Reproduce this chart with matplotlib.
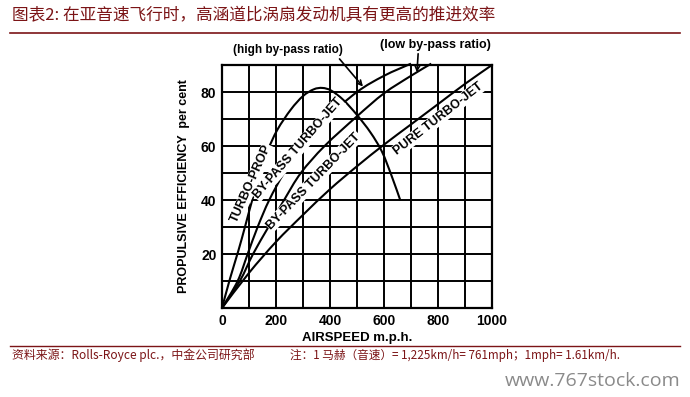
import matplotlib
matplotlib.use("Agg")
import matplotlib.pyplot as plt
from matplotlib.path import Path
from matplotlib.patches import PathPatch
import numpy as np

plt.rcParams['font.family'] = ['Liberation Sans', 'Noto Sans CJK SC', 'DejaVu Sans']

# ---- data ----
turboprop_x = [0, 30, 60, 85, 112, 142, 168, 205, 255, 300, 340, 372, 405, 450, 500, 550, 592, 628, 660]
turboprop_y = [0, 11, 21, 30, 40, 50, 58, 66, 73.5, 78.5, 81, 81.5, 80.5, 77, 71.5, 65, 58, 49, 40]

high_bp_x = [0, 58, 95, 132, 175, 230, 300, 385, 500, 600, 700]
high_bp_y = [0, 10, 20, 30, 40, 50, 60, 70, 80, 86, 90.5]

low_bp_x = [0, 66, 115, 172, 230, 292, 380, 500, 600, 700, 775]
low_bp_y = [0, 10, 20, 30, 40, 50, 60, 71, 79.5, 86, 90.5]

pure_x = [0, 100, 200, 300, 400, 500, 600, 700, 800, 900, 1000]
pure_y = [0, 13, 24.5, 34.5, 44, 52.5, 60.5, 68, 75.5, 83, 90]

x_ticks = [0, 200, 400, 600, 800, 1000]
y_ticks = [20, 40, 60, 80]

title = "图表2: 在亚音速飞行时，高涵道比涡扇发动机具有更高的推进效率"
source = "资料来源：Rolls-Royce plc.，中金公司研究部"
note = "注：1 马赫（音速）= 1,225km/h= 761mph；1mph= 1.61km/h."

W, H = 690, 397
fig = plt.figure(figsize=(W / 100, H / 100), dpi=100)

def fx(px):
    return px / W

def fy(py):
    return 1 - py / H

ax = fig.add_axes([fx(222), fy(308), (492 - 222) / W, (308 - 65) / H])
ax.set_xlim(0, 1000)
ax.set_ylim(0, 90)

# grid
for gx in range(100, 1000, 100):
    ax.axvline(gx, color='black', lw=1.4, zorder=1)
for gy in range(10, 90, 10):
    ax.axhline(gy, color='black', lw=1.4, zorder=1)
for s in ax.spines.values():
    s.set_linewidth(1.6)
    s.set_color('black')


def smooth_curve(ax, xs, ys, **kw):
    """Draw a smooth curve through the points as a Catmull-Rom Bezier path,
    computed in display space so the curve looks even on screen."""
    pts = ax.transData.transform(np.column_stack([xs, ys]))
    n = len(pts)
    verts = [pts[0]]
    codes = [Path.MOVETO]
    for i in range(n - 1):
        p0 = pts[i - 1] if i > 0 else pts[i]
        p1 = pts[i]
        p2 = pts[i + 1]
        p3 = pts[i + 2] if i + 2 < n else pts[i + 1]
        c1 = p1 + (p2 - p0) / 6.0
        c2 = p2 - (p3 - p1) / 6.0
        verts += [c1, c2, p2]
        codes += [Path.CURVE4] * 3
    path = Path(ax.transData.inverted().transform(np.array(verts)), codes)
    patch = PathPatch(path, facecolor='none', **kw)
    patch.set_clip_on(False)
    ax.add_patch(patch)


lw = 1.5
for xs, ys in [(turboprop_x, turboprop_y), (high_bp_x, high_bp_y),
               (low_bp_x, low_bp_y), (pure_x, pure_y)]:
    smooth_curve(ax, xs, ys, edgecolor='black', lw=lw, zorder=3)

ax.set_xticks(x_ticks)
ax.set_yticks(y_ticks)
ax.tick_params(length=0, labelsize=10, pad=4)
for lab in ax.get_xticklabels() + ax.get_yticklabels():
    lab.set_fontweight('bold')

ax.set_xlabel("AIRSPEED m.p.h.", fontsize=9.5, fontweight='bold', labelpad=3)
ax.set_ylabel("PROPULSIVE EFFICIENCY  per cent", fontsize=9, fontweight='bold', labelpad=8)

bbox = dict(facecolor='white', edgecolor='none', pad=0.5)
ax.text(108, 46, "TURBO-PROP", rotation=66, fontsize=9, fontweight='bold',
        ha='center', va='center', zorder=4, bbox=bbox)
ax.text(282, 59, "BY-PASS TURBO-JET", rotation=49, fontsize=9, fontweight='bold',
        ha='center', va='center', zorder=4, bbox=bbox)
ax.text(340, 47, "BY-PASS TURBO-JET", rotation=46, fontsize=9, fontweight='bold',
        ha='center', va='center', zorder=4, bbox=bbox)
ax.text(800, 70, "PURE TURBO-JET", rotation=38, fontsize=9, fontweight='bold',
        ha='center', va='center', zorder=4, bbox=bbox)

ax.annotate("(high by-pass ratio)", xy=(522, 82.0), xytext=(244, 95.5),
            fontsize=8.5, fontweight='bold', ha='center', va='center',
            annotation_clip=False,
            arrowprops=dict(arrowstyle='->', color='black', lw=1.2,
                            shrinkA=0, shrinkB=0, relpos=(0.93, 0.2)))
ax.annotate("(low by-pass ratio)", xy=(722, 87.3), xytext=(789, 97.4),
            fontsize=9, fontweight='bold', ha='center', va='center',
            annotation_clip=False,
            arrowprops=dict(arrowstyle='->', color='black', lw=1.2,
                            shrinkA=0, shrinkB=0, relpos=(0.35, 0.1)))

red = '#7b1416'
fig.text(fx(12), fy(16), title, fontsize=12, color=red, ha='left', va='center',
         family=['Noto Sans CJK SC', 'DejaVu Sans'], style='italic')
fig.add_artist(plt.Line2D([fx(10), fx(680)], [fy(33), fy(33)], color=red, lw=1.2))
fig.add_artist(plt.Line2D([fx(10), fx(680)], [fy(346), fy(346)], color=red, lw=1.0))
fig.text(fx(12), fy(355), source, fontsize=8.6, color=red, ha='left', va='center',
         family=['Noto Sans CJK SC', 'DejaVu Sans'], style='italic')
fig.text(fx(290), fy(355), note, fontsize=8.4, color=red, ha='left', va='center',
         family=['Noto Sans CJK SC', 'DejaVu Sans'], style='italic')
fig.text(fx(681), fy(381), "www.767stock.com", fontsize=14, color='#8a8a8a',
         ha='right', va='center', family=['Open Sans', 'DejaVu Sans'])

fig.savefig("out.png", dpi=100)
